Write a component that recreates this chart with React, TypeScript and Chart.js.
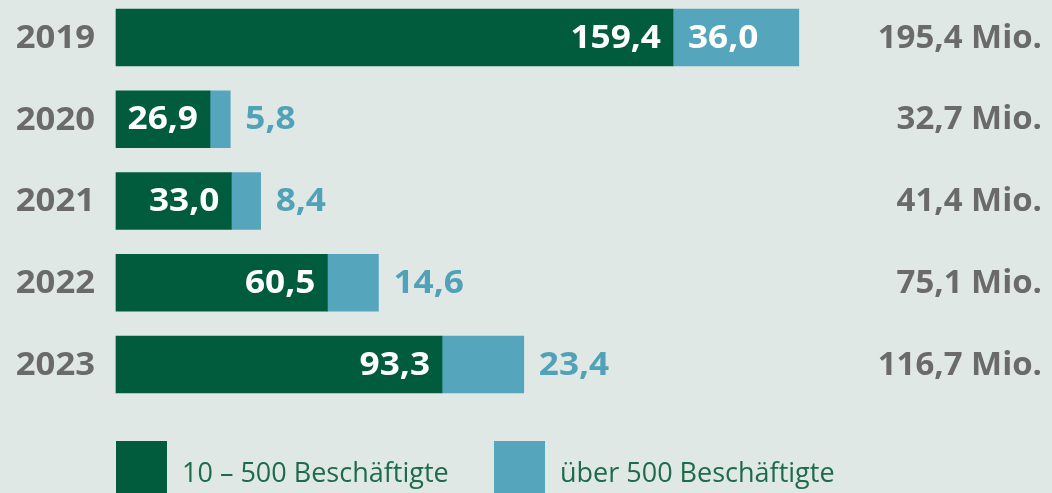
import React, { useEffect, useRef } from "react";
import { Chart, registerables } from "chart.js";

Chart.register(...registerables);

const years = ["2019", "2020", "2021", "2022", "2023"];
const small = [159.4, 26.9, 33.0, 60.5, 93.3];
const large = [36.0, 5.8, 8.4, 14.6, 23.4];
const totals = ["195,4 Mio.", "32,7 Mio.", "41,4 Mio.", "75,1 Mio.", "116,7 Mio."];
const legendLabels = ["10 – 500 Beschäftigte", "über 500 Beschäftigte"];

const GREEN = "#005c3d";
const BLUE = "#55a6bc";
const BG = "#e0e8e5";
const GREY = "#6a6a6a";
const BLUE_TEXT = "#51a2b8";
const LEGEND_TEXT = "#1e6b4c";
const FONT = '"Open Sans", sans-serif';

const fmt = (v: number) => v.toFixed(1).replace(".", ",");

function drawText(ctx: any, text: string, x: number, y: number, align: "left" | "right", sx: number) {
  const w = ctx.measureText(text).width * sx;
  const left = align === "left" ? x : x - w;
  ctx.save();
  ctx.translate(left, y);
  ctx.scale(sx, 1);
  ctx.textAlign = "left";
  ctx.fillText(text, 0, 0);
  ctx.restore();
  return w;
}

const labelPlugin = {
  id: "labels",
  afterDatasetsDraw(chart: any) {
    const ctx = chart.ctx;
    const x = chart.scales.x;
    const y = chart.scales.y;
    ctx.save();
    ctx.textBaseline = "middle";
    years.forEach((yr, i) => {
      const cy = y.getPixelForValue(i) + 1;
      ctx.font = `700 33px ${FONT}`;
      ctx.fillStyle = GREY;
      drawText(ctx, yr, 95, cy, "right", 1.05);
      ctx.font = `700 32px ${FONT}`;
      drawText(ctx, totals[i], chart.width - 10, cy, "right", 1.03);
      // green values
      ctx.font = `700 32px ${FONT}`;
      const gEnd = x.getPixelForValue(small[i]);
      ctx.fillStyle = "#ffffff";
      drawText(ctx, fmt(small[i]), gEnd - 12, cy, "right", 1.1);
      // blue values
      const bEnd = x.getPixelForValue(small[i] + large[i]);
      const txt = fmt(large[i]);
      const w = ctx.measureText(txt).width * 1.1;
      if (bEnd - gEnd > w + 30) {
        ctx.fillStyle = "#ffffff";
        drawText(ctx, txt, gEnd + 15, cy, "left", 1.1);
      } else {
        ctx.fillStyle = BLUE_TEXT;
        drawText(ctx, txt, bEnd + 15, cy, "left", 1.1);
      }
    });
    // legend
    const items = [
      { color: GREEN, label: legendLabels[0], x: 116 },
      { color: BLUE, label: legendLabels[1], x: 494 },
    ];
    ctx.font = `400 27px ${FONT}`;
    ctx.textBaseline = "alphabetic";
    items.forEach((it) => {
      ctx.fillStyle = it.color;
      ctx.fillRect(it.x, 441, 51, 60);
      ctx.fillStyle = LEGEND_TEXT;
      drawText(ctx, it.label, it.x + 66, 482, "left", 1.0);
    });
    ctx.restore();
  },
};

export default function App() {
  const ref = useRef<HTMLCanvasElement>(null);
  useEffect(() => {
    document.body.style.margin = "0";
    const chart = new Chart(ref.current!, {
      type: "bar",
      data: {
        labels: years,
        datasets: [
          { label: legendLabels[0], data: small, backgroundColor: GREEN, barThickness: 57, clip: false as any },
          { label: legendLabels[1], data: large, backgroundColor: BLUE, barThickness: 57, clip: false as any },
        ],
      },
      options: {
        indexAxis: "y",
        animation: false,
        responsive: false,
        maintainAspectRatio: false,
        layout: { padding: { left: 116, right: 10, top: 37.5, bottom: 128.5 } },
        scales: {
          x: { stacked: true, display: false, min: 0, max: 265 },
          y: { stacked: true, display: false, offset: false },
        },
        plugins: { legend: { display: false }, tooltip: { enabled: false } },
      },
      plugins: [labelPlugin],
    });
    return () => chart.destroy();
  }, []);
  return (
    <div style={{ width: 1052, height: 493, background: BG, overflow: "hidden" }}>
      <canvas ref={ref} width={1052} height={493} style={{ display: "block" }} />
    </div>
  );
}
